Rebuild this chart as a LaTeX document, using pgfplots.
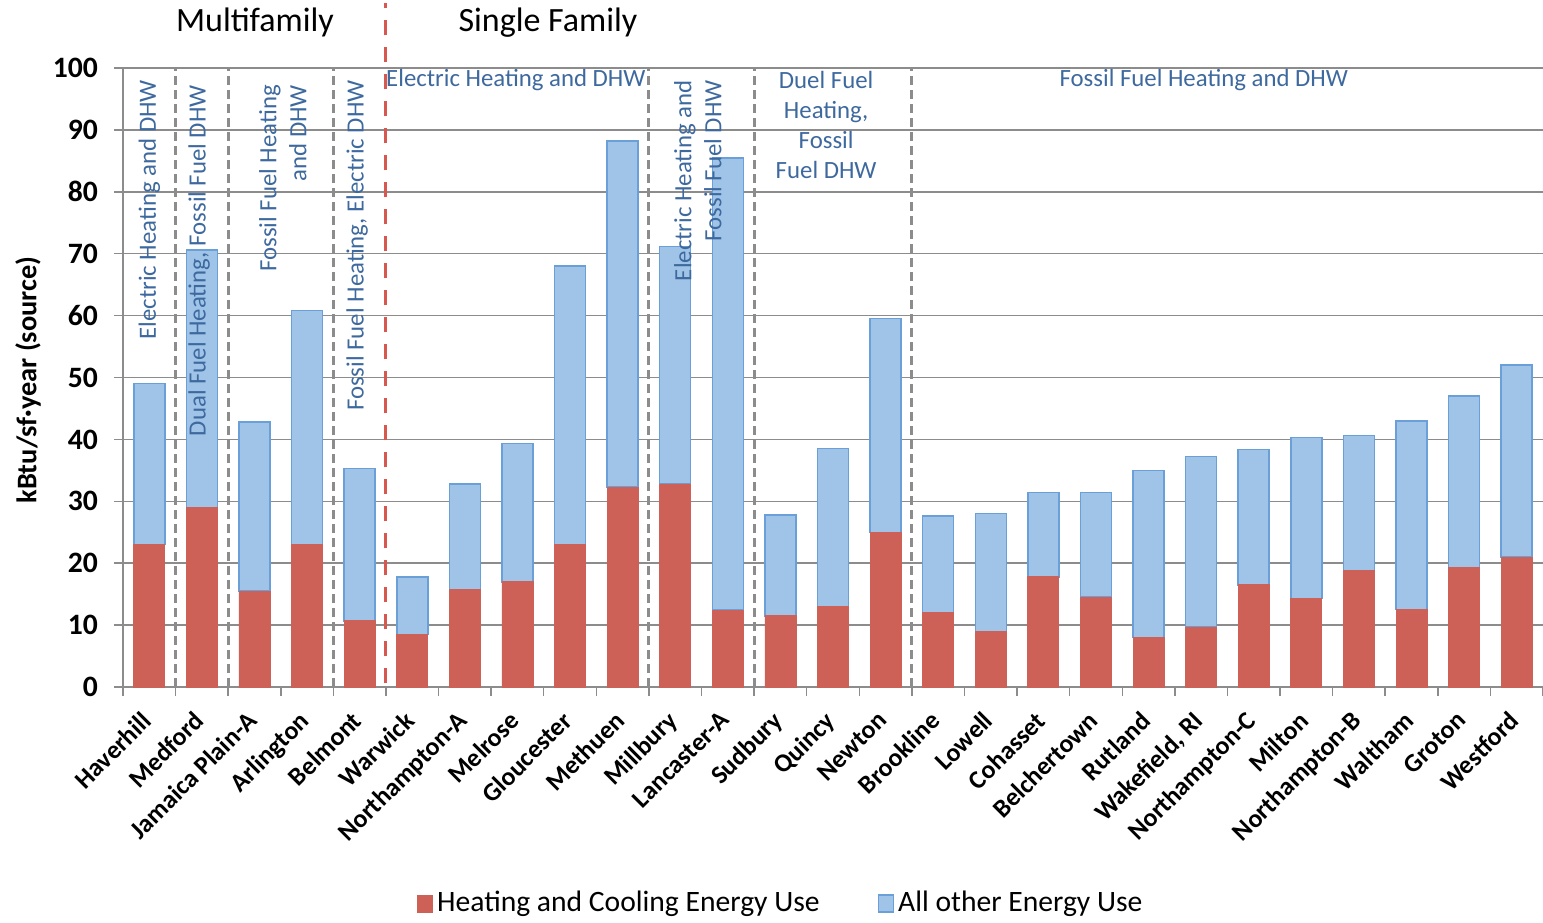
\documentclass[border=0pt]{standalone}
\usepackage{fontspec}
\setmainfont{Carlito}
\usepackage{pgfplots}
\pgfplotsset{compat=1.18}
\usepackage{pgfplotstable}

\definecolor{heatred}{RGB}{205,97,88}
\definecolor{otherblue}{RGB}{160,196,232}
\definecolor{otheredge}{RGB}{106,159,216}
\definecolor{gridgray}{RGB}{140,140,140}
\definecolor{notetext}{RGB}{62,105,158}
\definecolor{splitred}{RGB}{214,88,78}

% pos  heating  other
\pgfplotstableread{
x  heat  other
0  23.0  26.0
1  29.0  41.6
2  15.5  27.3
3  23.0  37.8
4  10.7  24.6
5   8.5   9.3
6  15.7  17.1
7  17.0  22.3
8  23.0  45.0
9  32.3  55.9
10 32.8  38.4
11 12.4  73.1
12 11.5  16.3
13 13.0  25.5
14 25.0  34.5
15 12.0  15.6
16  9.0  19.0
17 17.8  13.6
18 14.5  16.9
19  8.0  27.0
20  9.7  27.5
21 16.5  21.9
22 14.3  26.0
23 18.8  21.8
24 12.5  30.5
25 19.3  27.7
26 21.0  31.0
}\energydata

\tikzset{
    note/.style={text=notetext,inner sep=0pt,font=\fontsize{12.4}{15}\selectfont},
    sep/.style={gridgray,line width=1.5pt,dash pattern=on 4.5pt off 2.5pt},
}

\begin{document}
\begin{tikzpicture}
\begin{axis}[
    scale only axis,
    width=710pt,height=309.5pt,
    ybar stacked,
    bar width=15.5pt,
    xmin=-0.5,xmax=26.5,
    ymin=0,ymax=100,
    ytick={0,10,...,100},
    xtick={0,...,26},
    xticklabels={Haverhill,Medford,Jamaica Plain-A,Arlington,Belmont,Warwick,
        Northampton-A,Melrose,Gloucester,Methuen,Millbury,Lancaster-A,Sudbury,
        Quincy,Newton,Brookline,Lowell,Cohasset,Belchertown,Rutland,
        {Wakefield, RI},Northampton-C,Milton,Northampton-B,Waltham,Groton,Westford},
    minor xtick={-0.5,0.5,...,26.5},
    major x tick style={draw=none},
    every tick/.style={draw=gridgray,line width=0.75pt},
    major tick length=4.5pt,
    minor tick length=4.5pt,
    tick align=outside,
    axis x line*=bottom,axis y line*=left,
    axis line style={draw=gridgray,line width=0.75pt},
    ymajorgrids,
    major grid style={draw=gridgray,line width=0.75pt},
    tick label style={
        /pgf/number format/assume math mode=true,
        font=\fontsize{14.8}{16}\selectfont\bfseries
    },
    yticklabel style={xshift=-4.5pt},
    xticklabel style={rotate=45,anchor=north east,inner sep=1pt,
        xshift=-7pt,yshift=-0.5pt,font=\fontsize{12.9}{14}\selectfont\bfseries},
    ylabel={kBtu/sf·year (source)},
    ylabel style={font=\fontsize{14.2}{16}\selectfont\bfseries,
        at={(axis description cs:-0.0669,0.496)},anchor=center},
    clip=false,
    legend style={draw=none,fill=none,
        at={(axis description cs:0.464,-0.349)},anchor=center,
        font=\fontsize{14.8}{16}\selectfont,
        /tikz/every even column/.append style={column sep=27pt}},
    legend columns=2,
    legend image code/.code={\draw[#1] (0pt,-4.5pt) rectangle (7.5pt,4pt);},
    % notes go on top of the bars
    after end axis/.code={
        \node[note,rotate=90,anchor=east] at (axis cs:0.0,98.1) {Electric Heating and DHW};
        \node[note,rotate=90,anchor=east] at (axis cs:0.95,97.3) {Dual Fuel Heating, Fossil Fuel DHW};
        \node[note,rotate=90,anchor=east,align=right] at (axis cs:2.54,97.3) {Fossil Fuel Heating\\and DHW};
        \node[note,rotate=90,anchor=east] at (axis cs:3.95,98.1) {Fossil Fuel Heating, Electric DHW};
        \node[note] at (axis cs:6.97,98.1) {Electric Heating and DHW};
        \node[note,rotate=90,anchor=east,align=right] at (axis cs:10.43,98.1) {Electric Heating and\\Fossil Fuel DHW};
        \node[note,align=center] at (axis cs:12.87,90.8) {Duel Fuel\\Heating,\\Fossil\\Fuel DHW};
        \node[note] at (axis cs:20.05,98.1) {Fossil Fuel Heating and DHW};
    },
]
\addplot[fill=heatred,draw=heatred] table[x=x,y=heat]{\energydata};
\addlegendentry{Heating and Cooling Energy Use}
\addplot[fill=otherblue,draw=otheredge,line width=0.75pt] table[x=x,y=other]{\energydata};
\addlegendentry{All other Energy Use}

% group separators
\draw[sep] (axis cs:0.5,0) -- (axis cs:0.5,100);
\draw[sep] (axis cs:1.5,0) -- (axis cs:1.5,100);
\draw[sep] (axis cs:3.5,0) -- (axis cs:3.5,100);
\draw[sep] (axis cs:9.5,0) -- (axis cs:9.5,100);
\draw[sep] (axis cs:11.5,0) -- (axis cs:11.5,100);
\draw[sep] (axis cs:14.5,0) -- (axis cs:14.5,100);
\draw[splitred,line width=1.5pt,dash pattern=on 7.5pt off 6pt]
    (axis cs:4.5,0.6) -- (axis cs:4.5,110.5);

% group titles
\node[font=\fontsize{17}{20}\selectfont] at (axis cs:2.01,107.4) {Multifamily};
\node[font=\fontsize{17}{20}\selectfont] at (axis cs:7.58,107.4) {Single Family};
\end{axis}
\pgfresetboundingbox
\path (-61.5pt,-117.5pt) rectangle (710pt,343.5pt);
\end{tikzpicture}
\end{document}
